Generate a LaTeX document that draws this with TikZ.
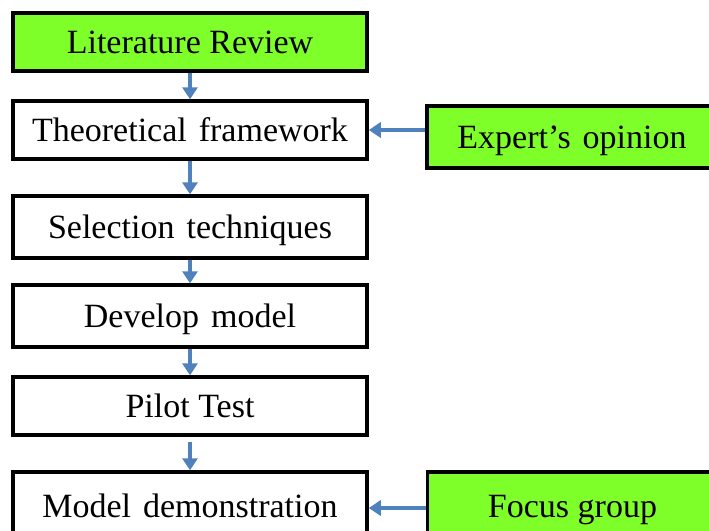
\documentclass[tikz,border=0pt]{standalone}
\usepackage{fontspec}
\setmainfont{Liberation Serif}
\usetikzlibrary{arrows.meta}
\definecolor{boxgreen}{HTML}{7FFF2A}
\definecolor{arrblue}{HTML}{4F81BD}
\newcommand{\wsp}{\hspace{12pt}}
\begin{document}
\begin{tikzpicture}[x=1pt,y=-1pt,
  stepbox/.style={draw=black, line width=3.5pt, rectangle, minimum width=354pt, minimum height=58pt, inner sep=0pt,
    font=\fontsize{34}{36}\selectfont, text height=22.5pt, text depth=0pt, fill=white},
  greenbox/.style={stepbox, fill=boxgreen},
  sidebox/.style={greenbox, minimum width=290pt, minimum height=62pt},
  flow/.style={draw=arrblue, line width=4pt, -{Triangle[length=12pt,width=15pt]}}]
\useasboundingbox (0,0) rectangle (709,530);
\clip (0,0) rectangle (709,530);
\node[greenbox] (lit) at (190,42) {Literature Review};
\node[stepbox] (theo) at (190,130) {Theoretical\wsp framework};
\node[stepbox, minimum height=62pt] (sel) at (190,227) {Selection\wsp techniques};
\node[stepbox, minimum height=62pt] (dev) at (190,316) {Develop\wsp model};
\node[stepbox] (pilot) at (190,406) {Pilot Test};
\node[stepbox, minimum height=68pt] (demo) at (190,506) {Model\wsp demonstration};
\node[sidebox] (exp) at (572,137) {Expert’s\wsp opinion};
\node[sidebox, minimum height=68pt] (focus) at (572.5,506) {Focus group};
\draw[flow] (lit.south) -- (theo.north);
\draw[flow] (theo.south) -- (sel.north);
\draw[flow] (sel.south) -- (dev.north);
\draw[flow] (dev.south) -- (pilot.north);
\draw[flow] ([yshift=-5pt]pilot.south) -- (demo.north);
\draw[flow] (exp.west |- theo.east) -- (theo.east);
\draw[flow] ([yshift=-2pt]focus.west) -- ([yshift=-2pt]demo.east);
\end{tikzpicture}
\end{document}
